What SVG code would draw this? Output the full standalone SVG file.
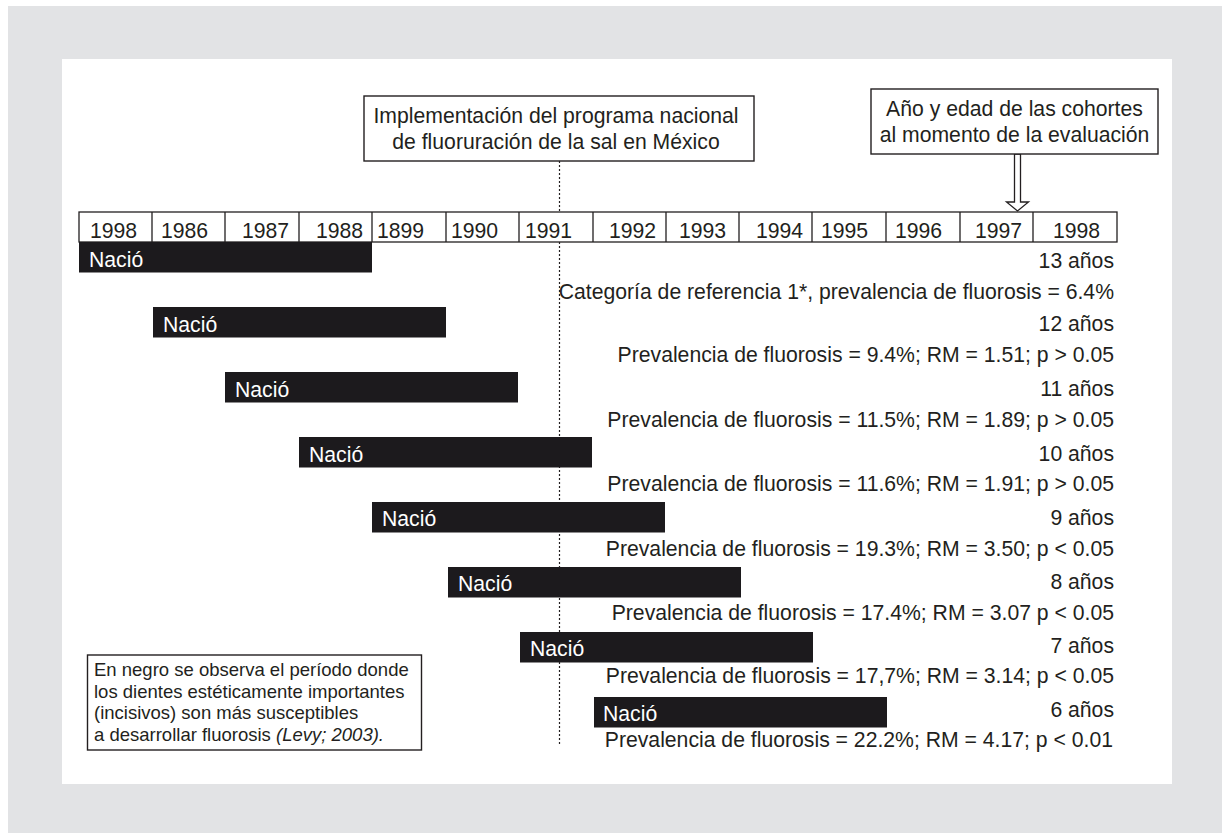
<svg xmlns="http://www.w3.org/2000/svg" width="1222" height="833" viewBox="0 0 1222 833">
<style>
text{font-family:"Liberation Sans",Arial,Helvetica,sans-serif;font-size:21.2px;fill:#231f20}
.box{fill:#fff;stroke:#231f20;stroke-width:1.4}
.cell{fill:#fff;stroke:#231f20;stroke-width:1.3}
.bar{fill:#1c1a1d}
.wt{fill:#fff}
.r{text-anchor:end}
.c{text-anchor:middle}
.note{font-size:18.5px}
.dot{stroke:#231f20;stroke-width:1.2;stroke-dasharray:2 2;fill:none}
.arrow{fill:#fff;stroke:#231f20;stroke-width:1.3}
</style>
<rect x="8" y="6" width="1214" height="827" fill="#e2e3e5"/>
<rect x="62" y="59" width="1110" height="725" fill="#fff"/>

<g id="connectors">
<line class="dot" x1="559.5" y1="161" x2="559.5" y2="212"/>
<line class="dot" x1="559.5" y1="242" x2="559.5" y2="746"/>
<polygon class="arrow" points="1014.5,154 1014.5,202 1006.5,202 1017.5,211 1028.5,202 1020.5,202 1020.5,154"/>
</g>

<g id="box-implementacion">
<rect class="box" x="364" y="96" width="390" height="65"/>
<text class="c" x="556" y="123">Implementación del programa nacional</text>
<text class="c" x="556" y="149">de fluoruración de la sal en México</text>
</g>

<g id="box-evaluacion">
<rect class="box" x="871" y="89" width="287" height="65"/>
<text class="c" x="1014.5" y="116">Año y edad de las cohortes</text>
<text class="c" x="1014.5" y="142">al momento de la evaluación</text>
</g>

<g id="years">
<rect class="cell" x="79" y="212" width="1038" height="30"/>
<path d="M152,212V242M225,212V242M299,212V242M372,212V242M446,212V242M519,212V242M593,212V242M666,212V242M739,212V242M812,212V242M886,212V242M960,212V242M1033,212V242" stroke="#231f20" stroke-width="1.3" fill="none"/>
<text x="90" y="238">1998</text>
<text x="161" y="238">1986</text>
<text x="242" y="238">1987</text>
<text x="316" y="238">1988</text>
<text x="377" y="238">1899</text>
<text x="451" y="238">1990</text>
<text x="525" y="238">1991</text>
<text x="609" y="238">1992</text>
<text x="679" y="238">1993</text>
<text x="756" y="238">1994</text>
<text x="821" y="238">1995</text>
<text x="895" y="238">1996</text>
<text x="975" y="238">1997</text>
<text x="1053" y="238">1998</text>
</g>

<g id="cohort-13">
<rect class="bar" x="79" y="242" width="293" height="30.5"/>
<text class="wt" x="89" y="267">Nació</text>
<text class="r" x="1114" y="268">13 años</text>
<text class="r" x="1114" y="299">Categoría de referencia 1*, prevalencia de fluorosis = 6.4%</text>
</g>

<g id="cohort-12">
<rect class="bar" x="153" y="307" width="293" height="30.5"/>
<text class="wt" x="163" y="332">Nació</text>
<text class="r" x="1114" y="331">12 años</text>
<text class="r" x="1114" y="362">Prevalencia de fluorosis = 9.4%; RM = 1.51; p &gt; 0.05</text>
</g>

<g id="cohort-11">
<rect class="bar" x="225" y="372" width="293" height="30.5"/>
<text class="wt" x="235" y="397">Nació</text>
<text class="r" x="1114" y="396">11 años</text>
<text class="r" x="1114" y="427">Prevalencia de fluorosis = 11.5%; RM = 1.89; p &gt; 0.05</text>
</g>

<g id="cohort-10">
<rect class="bar" x="299" y="437" width="293" height="30.5"/>
<text class="wt" x="309" y="462">Nació</text>
<text class="r" x="1114" y="461">10 años</text>
<text class="r" x="1114" y="491">Prevalencia de fluorosis = 11.6%; RM = 1.91; p &gt; 0.05</text>
</g>

<g id="cohort-9">
<rect class="bar" x="372" y="502" width="293" height="30.5"/>
<text class="wt" x="382" y="526">Nació</text>
<text class="r" x="1114" y="525">9 años</text>
<text class="r" x="1114" y="556">Prevalencia de fluorosis = 19.3%; RM = 3.50; p &lt; 0.05</text>
</g>

<g id="cohort-8">
<rect class="bar" x="448" y="567" width="293" height="30.5"/>
<text class="wt" x="458" y="591">Nació</text>
<text class="r" x="1114" y="589">8 años</text>
<text class="r" x="1114" y="620">Prevalencia de fluorosis = 17.4%; RM = 3.07 p &lt; 0.05</text>
</g>

<g id="cohort-7">
<rect class="bar" x="520" y="632" width="293" height="30.5"/>
<text class="wt" x="530" y="656">Nació</text>
<text class="r" x="1114" y="653">7 años</text>
<text class="r" x="1114" y="683">Prevalencia de fluorosis = 17,7%; RM = 3.14; p &lt; 0.05</text>
</g>

<g id="cohort-6">
<rect class="bar" x="594" y="697" width="293" height="30.5"/>
<text class="wt" x="603" y="721">Nació</text>
<text class="r" x="1114" y="717">6 años</text>
<text class="r" x="1113" y="747">Prevalencia de fluorosis = 22.2%; RM = 4.17; p &lt; 0.01</text>
</g>

<g id="note">
<rect class="box" x="87.5" y="655" width="334" height="95" stroke-width="1.2"/>
<text class="note" x="94" y="676">En negro se observa el período donde</text>
<text class="note" x="94" y="698">los dientes estéticamente importantes</text>
<text class="note" x="94" y="719">(incisivos) son más susceptibles</text>
<text class="note" x="94" y="741">a desarrollar fluorosis <tspan font-style="italic">(Levy; 2003).</tspan></text>
</g>
</svg>
